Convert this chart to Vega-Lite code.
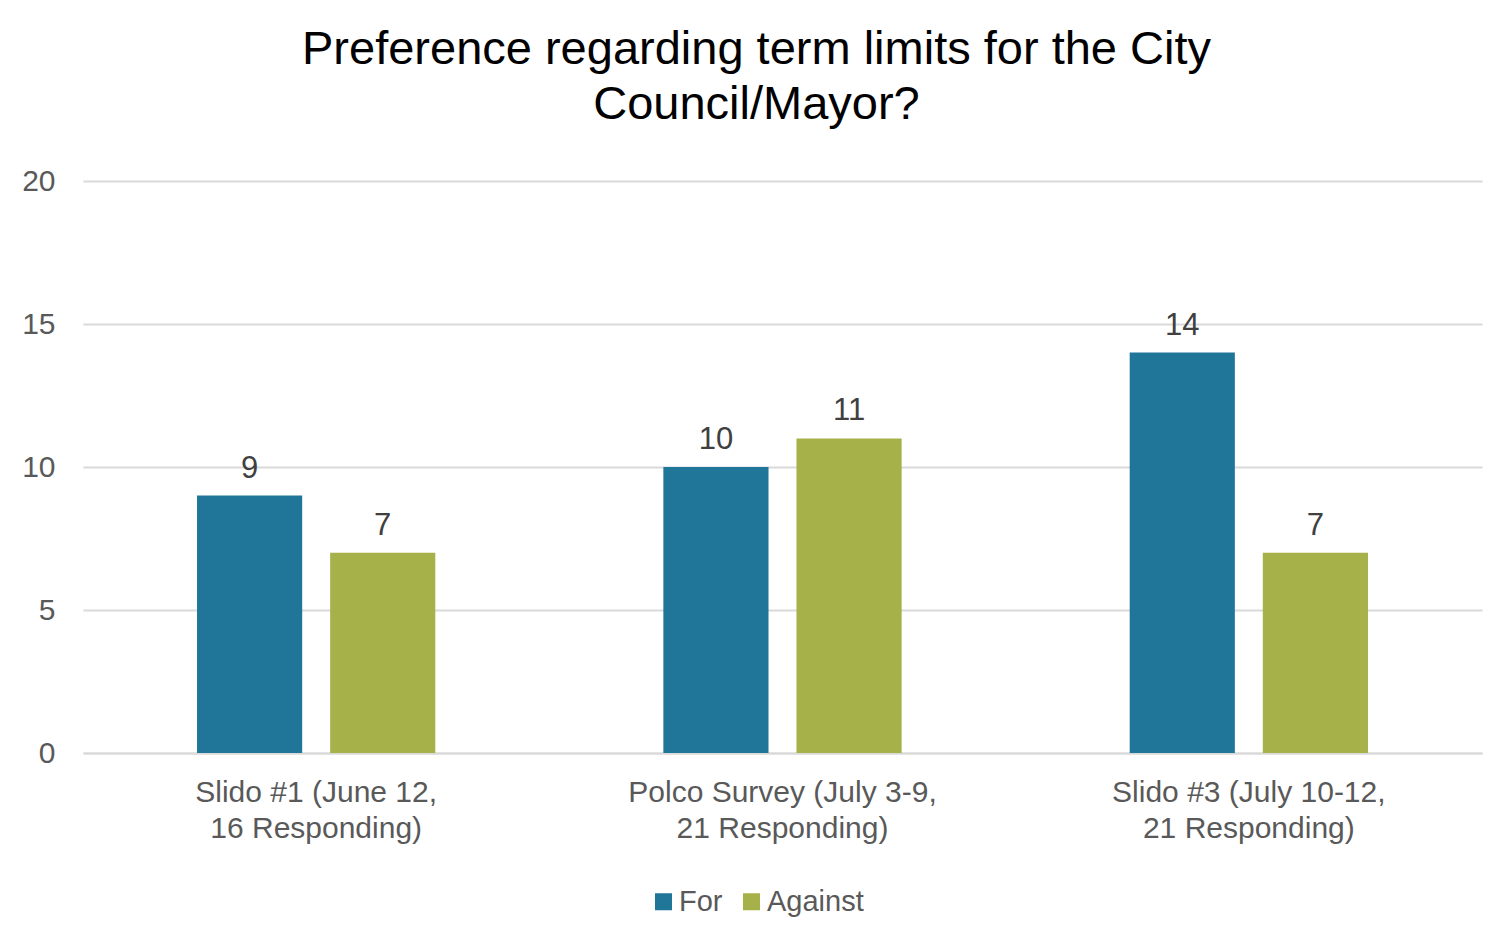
{
  "$schema": "https://vega.github.io/schema/vega-lite/v6.json",
  "autosize": "none",
  "width": 1399,
  "height": 572,
  "padding": {"left": 83, "top": 181, "right": 29, "bottom": 185},
  "background": "white",
  "title": {
    "text": ["Preference regarding term limits for the City", "Council/Mayor?"],
    "fontSize": 47,
    "font": "Liberation Sans",
    "fontWeight": "normal",
    "color": "#000000",
    "anchor": "middle",
    "frame": "group",
    "dx": -26,
    "offset": 37,
    "lineHeight": 55
  },
  "data": {
    "values": [
      {"survey": "Slido #1 (June 12, 16 Responding)", "position": "For", "count": 9},
      {"survey": "Slido #1 (June 12, 16 Responding)", "position": "Against", "count": 7},
      {"survey": "Polco Survey (July 3-9, 21 Responding)", "position": "For", "count": 10},
      {"survey": "Polco Survey (July 3-9, 21 Responding)", "position": "Against", "count": 11},
      {"survey": "Slido #3 (July 10-12, 21 Responding)", "position": "For", "count": 14},
      {"survey": "Slido #3 (July 10-12, 21 Responding)", "position": "Against", "count": 7}
    ]
  },
  "encoding": {
    "x": {
      "field": "survey",
      "type": "nominal",
      "sort": null,
      "title": null,
      "scale": {"paddingInner": 0.489, "paddingOuter": 0.2445},
      "axis": {
        "labelAngle": 0,
        "labelExpr": "split(replace(datum.label, ', ', ',|'), '|')",
        "labelFont": "Liberation Sans",
        "labelFontSize": 30,
        "labelColor": "#595959",
        "labelLineHeight": 36,
        "labelPadding": 24,
        "labelLimit": 0,
        "ticks": false,
        "domain": true,
        "domainColor": "#d9d9d9",
        "domainWidth": 2,
        "grid": false
      }
    },
    "xOffset": {
      "field": "position",
      "type": "nominal",
      "sort": ["For", "Against"],
      "scale": {"paddingInner": 0.21, "paddingOuter": 0}
    },
    "y": {
      "field": "count",
      "type": "quantitative",
      "title": null,
      "scale": {"domain": [0, 20]},
      "axis": {
        "values": [0, 5, 10, 15, 20],
        "labelFont": "Liberation Sans",
        "labelFontSize": 30,
        "labelColor": "#595959",
        "labelPadding": 28,
        "ticks": false,
        "domain": false,
        "gridColor": "#d9d9d9",
        "gridWidth": 2
      }
    }
  },
  "layer": [
    {
      "mark": {"type": "bar"},
      "encoding": {
        "color": {
          "field": "position",
          "type": "nominal",
          "sort": ["For", "Against"],
          "scale": {"domain": ["For", "Against"], "range": ["#1F7698", "#A7B14A"]},
          "legend": {
            "title": null,
            "orient": "none",
            "direction": "horizontal",
            "legendX": 566,
            "legendY": 706,
            "symbolType": "square",
            "symbolSize": 290,
            "symbolStrokeWidth": 0,
            "labelFont": "Liberation Sans",
            "labelFontSize": 29,
            "labelColor": "#595959",
            "labelOffset": 1,
            "columnPadding": 14
          }
        }
      }
    },
    {
      "mark": {"type": "text", "baseline": "bottom", "dy": -11, "font": "Liberation Sans", "fontSize": 31, "color": "#404040"},
      "encoding": {
        "text": {"field": "count", "type": "quantitative"}
      }
    }
  ],
  "config": {
    "view": {"stroke": null}
  }
}
